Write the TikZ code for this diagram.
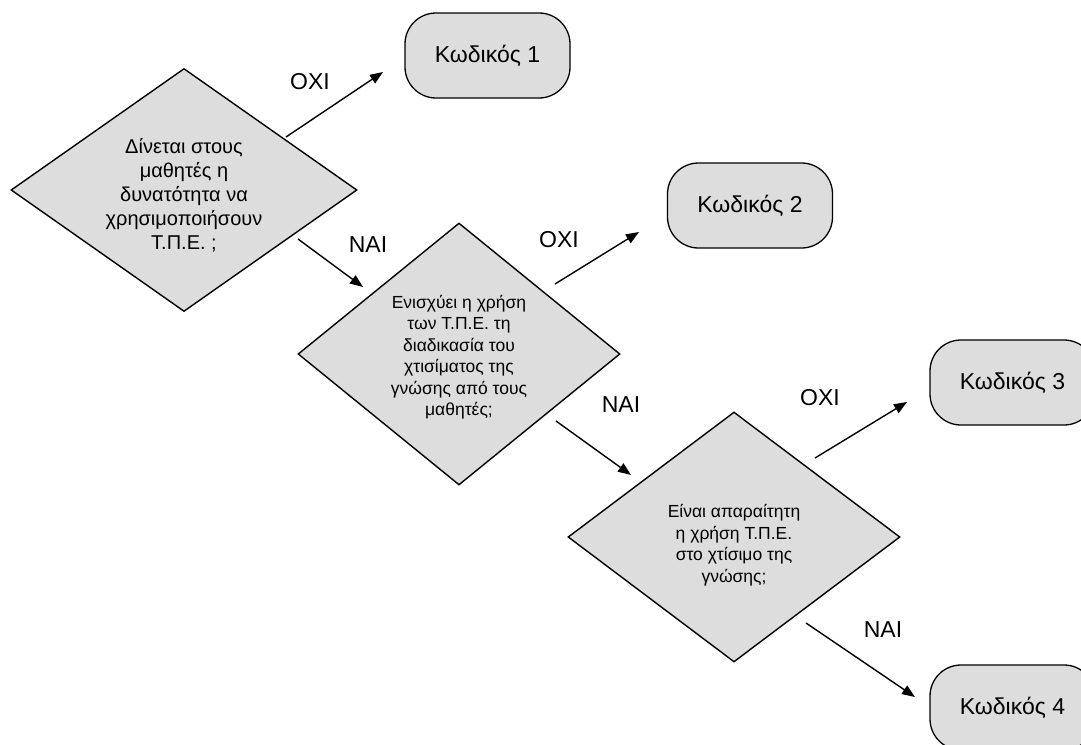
\documentclass[tikz,border=0pt]{standalone}
\usepackage{fontspec}
\setmainfont{Liberation Sans}
\usetikzlibrary{shapes.geometric,arrows.meta,calc}
\definecolor{boxgray}{RGB}{221,221,221}
\begin{document}
\begin{tikzpicture}[x=1pt,y=-1pt,
  decision/.style={diamond, draw=black, line width=1.4pt, fill=boxgray,
    inner sep=0pt},
  question/.style={align=center, inner sep=0pt, font=\fontsize{17.5}{21.5}\selectfont},
  terminal/.style={rectangle, rounded corners=31pt, draw=black, line width=1.3pt,
    fill=boxgray, minimum width=165pt, minimum height=85pt,
    font=\fontsize{23}{27}\selectfont},
  flow/.style={line width=1.4pt, -{Triangle[length=13pt,width=10pt]}},
  answer/.style={font=\fontsize{23}{27}\selectfont}]
\useasboundingbox (0,0) rectangle (1081,744);
\clip (0,0) rectangle (1081,744);

% decision diamonds
\node[decision, minimum width=346pt, minimum height=243pt] (q1) at (184,190) {};
\node[decision, minimum width=322pt, minimum height=262pt] (q2) at (459,354) {};
\node[decision, minimum width=332pt, minimum height=250pt] (q3) at (734,537) {};

% questions inside the diamonds
\node[question, font=\fontsize{20}{24}\selectfont] (q1t) at ($(q1)+(0,5)$)
  {Δίνεται στους\\μαθητές η\\δυνατότητα να\\χρησιμοποιήσουν\\Τ.Π.Ε. ;};
\node[question] (q2t) at ($(q2)+(0,3)$)
  {Ενισχύει η χρήση\\των Τ.Π.Ε. τη\\διαδικασία του\\χτισίματος της\\γνώσης από τους\\μαθητές;};
\node[question] (q3t) at ($(q3)+(0,8)$)
  {Είναι απαραίτητη\\η χρήση Τ.Π.Ε.\\στο χτίσιμο της\\γνώσης;};

% outcome codes
\node[terminal] (k1) at (487.5,55.5) {Κωδικός 1};
\node[terminal] (k2) at (750,205.5) {Κωδικός 2};
\node[terminal] (k3) at (1012.5,382.5) {Κωδικός 3};
\node[terminal] (k4) at (1012.5,707.5) {Κωδικός 4};

% free-standing arrow ends
\coordinate (a1s) at (286,137); \coordinate (a1e) at (383,72);
\coordinate (a2s) at (298,239); \coordinate (a2e) at (363,287);
\coordinate (a3s) at (555,284); \coordinate (a3e) at (639,232);
\coordinate (a4s) at (556,421); \coordinate (a4e) at (631,475);
\coordinate (a5s) at (815,458); \coordinate (a5e) at (907,402);
\coordinate (a6s) at (806,623); \coordinate (a6e) at (915,697);

\draw[flow] (a1s) -- (a1e);
\draw[flow] (a2s) -- (a2e);
\draw[flow] (a3s) -- (a3e);
\draw[flow] (a4s) -- (a4e);
\draw[flow] (a5s) -- (a5e);
\draw[flow] (a6s) -- (a6e);

% answer labels
\node[answer] (l1) at (310,82) {ΟΧΙ};
\node[answer] (l2) at (368,245) {ΝΑΙ};
\node[answer] (l3) at (559,240) {ΟΧΙ};
\node[answer] (l4) at (621,405) {ΝΑΙ};
\node[answer] (l5) at (820,398) {ΟΧΙ};
\node[answer] (l6) at (883,630) {ΝΑΙ};
\end{tikzpicture}
\end{document}
